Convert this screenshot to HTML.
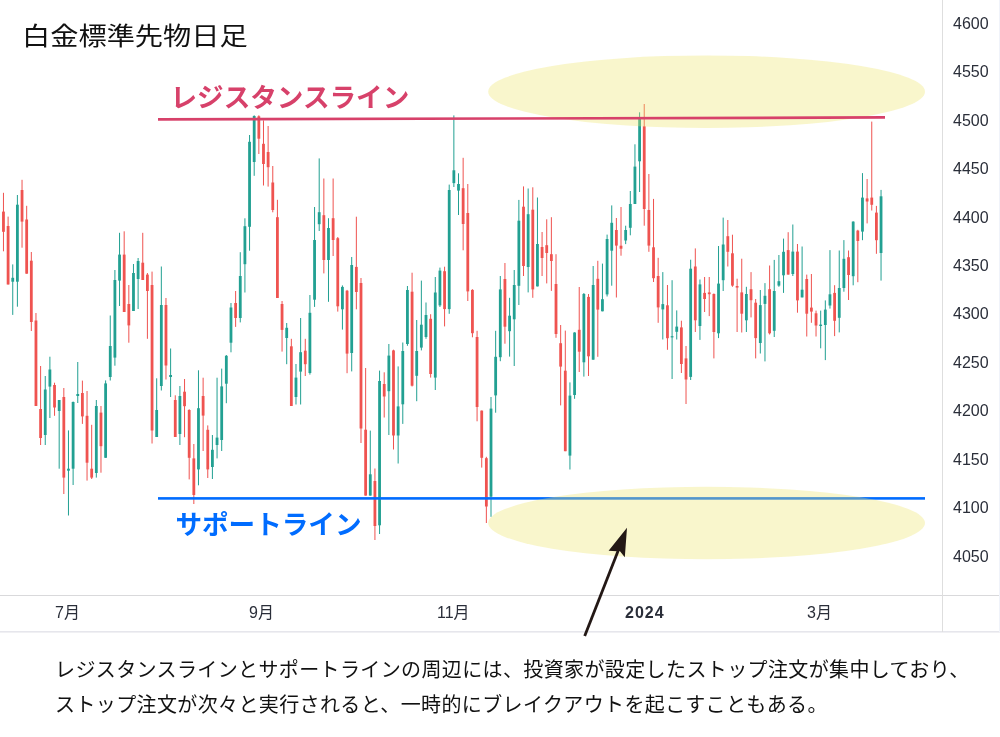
<!DOCTYPE html>
<html lang="ja"><head><meta charset="utf-8">
<style>
html,body{margin:0;padding:0;background:#fff;}
body{width:1000px;height:737px;position:relative;overflow:hidden;}
svg{position:absolute;left:0;top:0;}
.t{position:absolute;white-space:nowrap;font-family:"Liberation Sans","Noto Sans CJK JP",sans-serif;}
#title{left:21.5px;top:16.3px;font-size:27px;color:#111;transform:scale(1.045,0.93);transform-origin:0 0;}
#res{left:170.5px;top:76.2px;font-size:26.6px;font-weight:700;color:#d7416a;}
#sup{left:175.4px;top:502.9px;font-size:26.6px;font-weight:700;color:#006cff;}
#body{left:55px;top:653px;font-size:20px;letter-spacing:0.38px;line-height:35px;color:#111;}
.ax{font-family:"Liberation Sans","Noto Sans CJK JP",sans-serif;font-size:16px;fill:#2a2e39;}
</style></head><body>
<svg width="1000" height="737" viewBox="0 0 1000 737">
<g shape-rendering="auto">
<rect x="2.96" y="192.8" width="1.0" height="58.5" fill="#ef5350"/><rect x="2.06" y="211.6" width="2.8" height="20.2" fill="#ef5350"/>
<rect x="7.60" y="216.6" width="1.0" height="67.9" fill="#ef5350"/><rect x="6.70" y="226.0" width="2.8" height="58.5" fill="#ef5350"/>
<rect x="12.24" y="264.4" width="1.0" height="50.5" fill="#22a092"/><rect x="11.34" y="277.8" width="2.8" height="3.9" fill="#22a092"/>
<rect x="16.89" y="195.0" width="1.0" height="111.7" fill="#22a092"/><rect x="15.99" y="204.7" width="2.8" height="77.0" fill="#22a092"/>
<rect x="21.53" y="179.8" width="1.0" height="67.9" fill="#ef5350"/><rect x="20.63" y="190.0" width="2.8" height="31.6" fill="#ef5350"/>
<rect x="26.17" y="205.8" width="1.0" height="67.9" fill="#ef5350"/><rect x="25.27" y="219.5" width="2.8" height="54.2" fill="#ef5350"/>
<rect x="30.82" y="252.0" width="1.0" height="79.0" fill="#ef5350"/><rect x="29.92" y="260.7" width="2.8" height="61.3" fill="#ef5350"/>
<rect x="35.46" y="313.0" width="1.0" height="93.0" fill="#ef5350"/><rect x="34.56" y="320.5" width="2.8" height="85.5" fill="#ef5350"/>
<rect x="40.10" y="366.0" width="1.0" height="79.0" fill="#ef5350"/><rect x="39.20" y="409.0" width="2.8" height="29.0" fill="#ef5350"/>
<rect x="44.75" y="376.0" width="1.0" height="69.0" fill="#22a092"/><rect x="43.85" y="389.5" width="2.8" height="45.5" fill="#22a092"/>
<rect x="49.39" y="356.7" width="1.0" height="61.3" fill="#22a092"/><rect x="48.49" y="369.5" width="2.8" height="17.1" fill="#22a092"/>
<rect x="54.03" y="382.7" width="1.0" height="33.1" fill="#ef5350"/><rect x="53.13" y="385.0" width="2.8" height="22.5" fill="#ef5350"/>
<rect x="58.68" y="400.0" width="1.0" height="68.7" fill="#22a092"/><rect x="57.78" y="400.0" width="2.8" height="11.0" fill="#22a092"/>
<rect x="63.32" y="388.0" width="1.0" height="106.0" fill="#ef5350"/><rect x="62.42" y="397.0" width="2.8" height="80.6" fill="#ef5350"/>
<rect x="67.96" y="430.4" width="1.0" height="85.1" fill="#22a092"/><rect x="67.06" y="468.7" width="2.8" height="2.0" fill="#22a092"/>
<rect x="72.61" y="401.5" width="1.0" height="83.5" fill="#22a092"/><rect x="71.71" y="402.0" width="2.8" height="66.7" fill="#22a092"/>
<rect x="77.25" y="362.0" width="1.0" height="41.0" fill="#22a092"/><rect x="76.35" y="394.0" width="2.8" height="2.0" fill="#22a092"/>
<rect x="81.89" y="380.6" width="1.0" height="43.3" fill="#ef5350"/><rect x="80.99" y="393.0" width="2.8" height="23.4" fill="#ef5350"/>
<rect x="86.54" y="391.0" width="1.0" height="89.6" fill="#ef5350"/><rect x="85.64" y="415.8" width="2.8" height="46.9" fill="#ef5350"/>
<rect x="91.18" y="424.8" width="1.0" height="54.2" fill="#ef5350"/><rect x="90.28" y="468.7" width="2.8" height="8.9" fill="#ef5350"/>
<rect x="95.82" y="400.0" width="1.0" height="77.6" fill="#22a092"/><rect x="94.92" y="406.0" width="2.8" height="67.0" fill="#22a092"/>
<rect x="100.47" y="406.0" width="1.0" height="66.7" fill="#ef5350"/><rect x="99.57" y="412.6" width="2.8" height="33.6" fill="#ef5350"/>
<rect x="105.11" y="380.4" width="1.0" height="77.4" fill="#22a092"/><rect x="104.21" y="383.4" width="2.8" height="74.4" fill="#22a092"/>
<rect x="109.75" y="315.5" width="1.0" height="65.0" fill="#22a092"/><rect x="108.85" y="346.0" width="2.8" height="31.0" fill="#22a092"/>
<rect x="114.40" y="270.0" width="1.0" height="95.7" fill="#22a092"/><rect x="113.50" y="280.0" width="2.8" height="77.6" fill="#22a092"/>
<rect x="119.04" y="232.8" width="1.0" height="73.2" fill="#22a092"/><rect x="118.14" y="254.6" width="2.8" height="26.0" fill="#22a092"/>
<rect x="123.68" y="231.3" width="1.0" height="80.7" fill="#ef5350"/><rect x="122.78" y="254.6" width="2.8" height="57.4" fill="#ef5350"/>
<rect x="128.33" y="285.0" width="1.0" height="57.7" fill="#ef5350"/><rect x="127.43" y="304.0" width="2.8" height="21.4" fill="#ef5350"/>
<rect x="132.97" y="264.0" width="1.0" height="47.0" fill="#22a092"/><rect x="132.07" y="273.0" width="2.8" height="38.0" fill="#22a092"/>
<rect x="137.61" y="258.0" width="1.0" height="51.0" fill="#22a092"/><rect x="136.71" y="261.0" width="2.8" height="18.0" fill="#22a092"/>
<rect x="142.25" y="232.8" width="1.0" height="47.2" fill="#ef5350"/><rect x="141.35" y="262.7" width="2.8" height="17.3" fill="#ef5350"/>
<rect x="146.90" y="273.0" width="1.0" height="65.8" fill="#ef5350"/><rect x="146.00" y="274.6" width="2.8" height="16.4" fill="#ef5350"/>
<rect x="151.54" y="271.6" width="1.0" height="171.9" fill="#ef5350"/><rect x="150.64" y="285.0" width="2.8" height="145.5" fill="#ef5350"/>
<rect x="156.18" y="378.3" width="1.0" height="58.7" fill="#22a092"/><rect x="155.28" y="410.0" width="2.8" height="27.0" fill="#22a092"/>
<rect x="160.83" y="266.5" width="1.0" height="124.0" fill="#22a092"/><rect x="159.93" y="305.0" width="2.8" height="81.0" fill="#22a092"/>
<rect x="165.47" y="298.0" width="1.0" height="81.5" fill="#ef5350"/><rect x="164.57" y="305.0" width="2.8" height="60.5" fill="#ef5350"/>
<rect x="170.11" y="348.5" width="1.0" height="48.5" fill="#22a092"/><rect x="169.21" y="375.0" width="2.8" height="2.0" fill="#22a092"/>
<rect x="174.76" y="395.3" width="1.0" height="41.7" fill="#ef5350"/><rect x="173.86" y="400.0" width="2.8" height="37.0" fill="#ef5350"/>
<rect x="179.40" y="386.0" width="1.0" height="59.0" fill="#22a092"/><rect x="178.50" y="396.0" width="2.8" height="38.0" fill="#22a092"/>
<rect x="184.04" y="379.0" width="1.0" height="58.2" fill="#ef5350"/><rect x="183.14" y="391.7" width="2.8" height="14.5" fill="#ef5350"/>
<rect x="188.69" y="409.2" width="1.0" height="70.2" fill="#ef5350"/><rect x="187.79" y="410.0" width="2.8" height="47.8" fill="#ef5350"/>
<rect x="193.33" y="444.0" width="1.0" height="60.0" fill="#ef5350"/><rect x="192.43" y="458.4" width="2.8" height="36.6" fill="#ef5350"/>
<rect x="197.97" y="370.3" width="1.0" height="115.0" fill="#22a092"/><rect x="197.07" y="408.2" width="2.8" height="61.2" fill="#22a092"/>
<rect x="202.62" y="377.7" width="1.0" height="73.3" fill="#ef5350"/><rect x="201.72" y="396.0" width="2.8" height="19.6" fill="#ef5350"/>
<rect x="207.26" y="425.4" width="1.0" height="52.6" fill="#ef5350"/><rect x="206.36" y="429.8" width="2.8" height="39.6" fill="#ef5350"/>
<rect x="211.90" y="435.0" width="1.0" height="44.0" fill="#22a092"/><rect x="211.00" y="449.8" width="2.8" height="17.2" fill="#22a092"/>
<rect x="216.55" y="377.7" width="1.0" height="80.7" fill="#22a092"/><rect x="215.65" y="437.6" width="2.8" height="7.4" fill="#22a092"/>
<rect x="221.19" y="368.6" width="1.0" height="82.4" fill="#22a092"/><rect x="220.29" y="386.4" width="2.8" height="53.6" fill="#22a092"/>
<rect x="225.83" y="355.0" width="1.0" height="48.2" fill="#22a092"/><rect x="224.93" y="355.8" width="2.8" height="27.9" fill="#22a092"/>
<rect x="230.48" y="303.0" width="1.0" height="49.3" fill="#22a092"/><rect x="229.58" y="307.5" width="2.8" height="35.2" fill="#22a092"/>
<rect x="235.12" y="291.0" width="1.0" height="35.9" fill="#ef5350"/><rect x="234.22" y="303.0" width="2.8" height="15.0" fill="#ef5350"/>
<rect x="239.76" y="252.2" width="1.0" height="70.2" fill="#22a092"/><rect x="238.86" y="276.0" width="2.8" height="42.0" fill="#22a092"/>
<rect x="244.41" y="218.3" width="1.0" height="74.2" fill="#22a092"/><rect x="243.51" y="226.2" width="2.8" height="38.0" fill="#22a092"/>
<rect x="249.05" y="135.0" width="1.0" height="115.7" fill="#22a092"/><rect x="248.15" y="141.8" width="2.8" height="85.0" fill="#22a092"/>
<rect x="253.69" y="115.3" width="1.0" height="60.5" fill="#22a092"/><rect x="252.79" y="116.0" width="2.8" height="46.0" fill="#22a092"/>
<rect x="258.34" y="115.3" width="1.0" height="38.7" fill="#ef5350"/><rect x="257.44" y="116.3" width="2.8" height="22.4" fill="#ef5350"/>
<rect x="262.98" y="120.4" width="1.0" height="65.1" fill="#ef5350"/><rect x="262.08" y="143.8" width="2.8" height="20.2" fill="#ef5350"/>
<rect x="267.62" y="126.0" width="1.0" height="60.6" fill="#ef5350"/><rect x="266.72" y="152.0" width="2.8" height="15.2" fill="#ef5350"/>
<rect x="272.27" y="166.0" width="1.0" height="46.3" fill="#ef5350"/><rect x="271.37" y="182.5" width="2.8" height="27.5" fill="#ef5350"/>
<rect x="276.91" y="199.8" width="1.0" height="98.2" fill="#ef5350"/><rect x="276.01" y="217.2" width="2.8" height="80.8" fill="#ef5350"/>
<rect x="281.55" y="301.0" width="1.0" height="50.6" fill="#ef5350"/><rect x="280.65" y="304.0" width="2.8" height="25.9" fill="#ef5350"/>
<rect x="286.20" y="323.0" width="1.0" height="41.2" fill="#22a092"/><rect x="285.30" y="327.8" width="2.8" height="10.2" fill="#22a092"/>
<rect x="290.84" y="338.8" width="1.0" height="67.2" fill="#ef5350"/><rect x="289.94" y="346.3" width="2.8" height="59.7" fill="#ef5350"/>
<rect x="295.48" y="364.0" width="1.0" height="40.5" fill="#22a092"/><rect x="294.58" y="377.6" width="2.8" height="19.4" fill="#22a092"/>
<rect x="300.13" y="318.0" width="1.0" height="86.5" fill="#22a092"/><rect x="299.23" y="352.2" width="2.8" height="19.4" fill="#22a092"/>
<rect x="304.77" y="338.8" width="1.0" height="37.2" fill="#ef5350"/><rect x="303.87" y="350.7" width="2.8" height="13.5" fill="#ef5350"/>
<rect x="309.41" y="295.0" width="1.0" height="79.6" fill="#22a092"/><rect x="308.51" y="312.8" width="2.8" height="60.2" fill="#22a092"/>
<rect x="314.06" y="207.0" width="1.0" height="99.9" fill="#22a092"/><rect x="313.16" y="240.0" width="2.8" height="59.7" fill="#22a092"/>
<rect x="318.70" y="158.4" width="1.0" height="72.6" fill="#22a092"/><rect x="317.80" y="212.2" width="2.8" height="12.0" fill="#22a092"/>
<rect x="323.34" y="178.5" width="1.0" height="94.9" fill="#ef5350"/><rect x="322.44" y="215.2" width="2.8" height="44.8" fill="#ef5350"/>
<rect x="327.99" y="218.2" width="1.0" height="83.6" fill="#22a092"/><rect x="327.09" y="228.0" width="2.8" height="32.0" fill="#22a092"/>
<rect x="332.63" y="178.5" width="1.0" height="77.5" fill="#ef5350"/><rect x="331.73" y="218.2" width="2.8" height="21.8" fill="#ef5350"/>
<rect x="337.27" y="237.0" width="1.0" height="74.6" fill="#ef5350"/><rect x="336.37" y="238.2" width="2.8" height="68.1" fill="#ef5350"/>
<rect x="341.92" y="285.4" width="1.0" height="44.2" fill="#22a092"/><rect x="341.02" y="286.9" width="2.8" height="22.4" fill="#22a092"/>
<rect x="346.56" y="289.9" width="1.0" height="83.3" fill="#ef5350"/><rect x="345.66" y="290.7" width="2.8" height="62.9" fill="#ef5350"/>
<rect x="351.20" y="257.0" width="1.0" height="114.4" fill="#22a092"/><rect x="350.30" y="265.0" width="2.8" height="88.0" fill="#22a092"/>
<rect x="355.85" y="216.7" width="1.0" height="92.6" fill="#ef5350"/><rect x="354.95" y="266.9" width="2.8" height="25.1" fill="#ef5350"/>
<rect x="360.49" y="278.0" width="1.0" height="165.0" fill="#ef5350"/><rect x="359.59" y="283.0" width="2.8" height="145.5" fill="#ef5350"/>
<rect x="365.13" y="368.0" width="1.0" height="127.6" fill="#ef5350"/><rect x="364.23" y="429.7" width="2.8" height="65.9" fill="#ef5350"/>
<rect x="369.78" y="430.6" width="1.0" height="65.0" fill="#22a092"/><rect x="368.88" y="474.3" width="2.8" height="21.3" fill="#22a092"/>
<rect x="374.42" y="468.5" width="1.0" height="71.5" fill="#ef5350"/><rect x="373.52" y="481.0" width="2.8" height="45.0" fill="#ef5350"/>
<rect x="379.06" y="370.6" width="1.0" height="163.4" fill="#22a092"/><rect x="378.16" y="381.0" width="2.8" height="144.3" fill="#22a092"/>
<rect x="383.71" y="372.3" width="1.0" height="45.2" fill="#ef5350"/><rect x="382.81" y="384.0" width="2.8" height="12.5" fill="#ef5350"/>
<rect x="388.35" y="344.0" width="1.0" height="91.0" fill="#22a092"/><rect x="387.45" y="355.6" width="2.8" height="35.6" fill="#22a092"/>
<rect x="392.99" y="349.7" width="1.0" height="99.8" fill="#ef5350"/><rect x="392.09" y="350.4" width="2.8" height="85.1" fill="#ef5350"/>
<rect x="397.64" y="366.4" width="1.0" height="97.1" fill="#22a092"/><rect x="396.74" y="406.4" width="2.8" height="29.1" fill="#22a092"/>
<rect x="402.28" y="342.5" width="1.0" height="81.4" fill="#22a092"/><rect x="401.38" y="351.0" width="2.8" height="53.3" fill="#22a092"/>
<rect x="406.92" y="286.0" width="1.0" height="59.8" fill="#22a092"/><rect x="406.02" y="290.0" width="2.8" height="54.0" fill="#22a092"/>
<rect x="411.57" y="272.7" width="1.0" height="113.8" fill="#ef5350"/><rect x="410.67" y="291.7" width="2.8" height="94.0" fill="#ef5350"/>
<rect x="416.21" y="320.0" width="1.0" height="81.2" fill="#22a092"/><rect x="415.31" y="351.0" width="2.8" height="24.8" fill="#22a092"/>
<rect x="420.85" y="280.6" width="1.0" height="69.8" fill="#22a092"/><rect x="419.95" y="324.7" width="2.8" height="22.9" fill="#22a092"/>
<rect x="425.50" y="302.5" width="1.0" height="36.3" fill="#22a092"/><rect x="424.60" y="315.0" width="2.8" height="22.0" fill="#22a092"/>
<rect x="430.14" y="314.2" width="1.0" height="63.4" fill="#ef5350"/><rect x="429.24" y="318.8" width="2.8" height="55.2" fill="#ef5350"/>
<rect x="434.78" y="277.0" width="1.0" height="113.0" fill="#22a092"/><rect x="433.88" y="292.5" width="2.8" height="85.1" fill="#22a092"/>
<rect x="439.43" y="267.6" width="1.0" height="39.4" fill="#22a092"/><rect x="438.53" y="270.6" width="2.8" height="34.8" fill="#22a092"/>
<rect x="444.07" y="266.7" width="1.0" height="59.7" fill="#ef5350"/><rect x="443.17" y="271.2" width="2.8" height="37.9" fill="#ef5350"/>
<rect x="448.71" y="184.6" width="1.0" height="129.2" fill="#22a092"/><rect x="447.81" y="190.0" width="2.8" height="119.1" fill="#22a092"/>
<rect x="453.36" y="115.4" width="1.0" height="71.6" fill="#22a092"/><rect x="452.46" y="170.3" width="2.8" height="12.8" fill="#22a092"/>
<rect x="458.00" y="173.3" width="1.0" height="41.7" fill="#22a092"/><rect x="457.10" y="184.0" width="2.8" height="6.6" fill="#22a092"/>
<rect x="462.64" y="157.8" width="1.0" height="92.5" fill="#ef5350"/><rect x="461.74" y="188.2" width="2.8" height="35.8" fill="#ef5350"/>
<rect x="467.29" y="184.0" width="1.0" height="117.0" fill="#ef5350"/><rect x="466.39" y="213.0" width="2.8" height="78.4" fill="#ef5350"/>
<rect x="471.93" y="289.2" width="1.0" height="48.1" fill="#ef5350"/><rect x="471.03" y="289.9" width="2.8" height="43.3" fill="#ef5350"/>
<rect x="476.57" y="330.8" width="1.0" height="90.5" fill="#ef5350"/><rect x="475.67" y="337.0" width="2.8" height="70.0" fill="#ef5350"/>
<rect x="481.22" y="410.5" width="1.0" height="57.1" fill="#ef5350"/><rect x="480.32" y="410.6" width="2.8" height="47.2" fill="#ef5350"/>
<rect x="485.86" y="456.8" width="1.0" height="66.2" fill="#ef5350"/><rect x="484.96" y="458.2" width="2.8" height="48.3" fill="#ef5350"/>
<rect x="490.50" y="397.0" width="1.0" height="119.8" fill="#22a092"/><rect x="489.60" y="408.6" width="2.8" height="88.1" fill="#22a092"/>
<rect x="495.15" y="330.8" width="1.0" height="81.9" fill="#22a092"/><rect x="494.25" y="356.8" width="2.8" height="38.6" fill="#22a092"/>
<rect x="499.79" y="276.0" width="1.0" height="85.2" fill="#22a092"/><rect x="498.89" y="289.4" width="2.8" height="67.8" fill="#22a092"/>
<rect x="504.43" y="263.0" width="1.0" height="80.7" fill="#ef5350"/><rect x="503.53" y="279.0" width="2.8" height="47.7" fill="#ef5350"/>
<rect x="509.08" y="297.8" width="1.0" height="58.8" fill="#22a092"/><rect x="508.18" y="315.7" width="2.8" height="15.5" fill="#22a092"/>
<rect x="513.72" y="270.0" width="1.0" height="96.0" fill="#22a092"/><rect x="512.82" y="285.0" width="2.8" height="34.3" fill="#22a092"/>
<rect x="518.36" y="199.9" width="1.0" height="105.1" fill="#22a092"/><rect x="517.46" y="220.7" width="2.8" height="65.1" fill="#22a092"/>
<rect x="523.01" y="186.4" width="1.0" height="89.6" fill="#ef5350"/><rect x="522.11" y="206.7" width="2.8" height="59.3" fill="#ef5350"/>
<rect x="527.65" y="188.5" width="1.0" height="103.9" fill="#22a092"/><rect x="526.75" y="214.2" width="2.8" height="52.8" fill="#22a092"/>
<rect x="532.29" y="187.3" width="1.0" height="110.5" fill="#ef5350"/><rect x="531.39" y="209.7" width="2.8" height="79.7" fill="#ef5350"/>
<rect x="536.94" y="197.5" width="1.0" height="88.9" fill="#22a092"/><rect x="536.04" y="244.0" width="2.8" height="42.4" fill="#22a092"/>
<rect x="541.58" y="232.0" width="1.0" height="44.0" fill="#ef5350"/><rect x="540.68" y="247.0" width="2.8" height="11.0" fill="#ef5350"/>
<rect x="546.22" y="219.3" width="1.0" height="64.1" fill="#ef5350"/><rect x="545.32" y="245.2" width="2.8" height="7.8" fill="#ef5350"/>
<rect x="550.87" y="217.2" width="1.0" height="73.7" fill="#ef5350"/><rect x="549.97" y="254.2" width="2.8" height="6.8" fill="#ef5350"/>
<rect x="555.51" y="254.2" width="1.0" height="83.6" fill="#ef5350"/><rect x="554.61" y="284.0" width="2.8" height="50.0" fill="#ef5350"/>
<rect x="560.15" y="325.0" width="1.0" height="80.4" fill="#ef5350"/><rect x="559.25" y="343.2" width="2.8" height="23.4" fill="#ef5350"/>
<rect x="564.80" y="330.6" width="1.0" height="120.6" fill="#ef5350"/><rect x="563.90" y="370.7" width="2.8" height="80.5" fill="#ef5350"/>
<rect x="569.44" y="382.4" width="1.0" height="87.1" fill="#22a092"/><rect x="568.54" y="395.6" width="2.8" height="60.0" fill="#22a092"/>
<rect x="574.08" y="332.2" width="1.0" height="66.6" fill="#22a092"/><rect x="573.18" y="332.5" width="2.8" height="62.5" fill="#22a092"/>
<rect x="578.73" y="287.0" width="1.0" height="85.0" fill="#ef5350"/><rect x="577.83" y="329.8" width="2.8" height="21.9" fill="#ef5350"/>
<rect x="583.37" y="293.0" width="1.0" height="83.6" fill="#22a092"/><rect x="582.47" y="294.0" width="2.8" height="68.3" fill="#22a092"/>
<rect x="588.01" y="294.0" width="1.0" height="82.0" fill="#ef5350"/><rect x="587.11" y="296.9" width="2.8" height="59.4" fill="#ef5350"/>
<rect x="592.66" y="266.0" width="1.0" height="93.7" fill="#22a092"/><rect x="591.76" y="285.0" width="2.8" height="74.7" fill="#22a092"/>
<rect x="597.30" y="260.8" width="1.0" height="96.0" fill="#ef5350"/><rect x="596.40" y="278.8" width="2.8" height="30.8" fill="#ef5350"/>
<rect x="601.94" y="263.6" width="1.0" height="47.7" fill="#22a092"/><rect x="601.04" y="299.2" width="2.8" height="12.1" fill="#22a092"/>
<rect x="606.59" y="234.6" width="1.0" height="61.9" fill="#22a092"/><rect x="605.69" y="239.0" width="2.8" height="55.4" fill="#22a092"/>
<rect x="611.23" y="205.4" width="1.0" height="80.3" fill="#22a092"/><rect x="610.33" y="222.8" width="2.8" height="27.9" fill="#22a092"/>
<rect x="615.87" y="218.0" width="1.0" height="79.5" fill="#ef5350"/><rect x="614.97" y="230.0" width="2.8" height="15.6" fill="#ef5350"/>
<rect x="620.51" y="207.0" width="1.0" height="48.7" fill="#ef5350"/><rect x="619.61" y="245.7" width="2.8" height="3.0" fill="#ef5350"/>
<rect x="625.16" y="225.7" width="1.0" height="18.4" fill="#22a092"/><rect x="624.26" y="230.0" width="2.8" height="10.5" fill="#22a092"/>
<rect x="629.80" y="191.0" width="1.0" height="44.3" fill="#22a092"/><rect x="628.90" y="204.0" width="2.8" height="23.8" fill="#22a092"/>
<rect x="634.44" y="144.3" width="1.0" height="59.7" fill="#22a092"/><rect x="633.54" y="166.6" width="2.8" height="37.4" fill="#22a092"/>
<rect x="639.09" y="112.3" width="1.0" height="79.7" fill="#22a092"/><rect x="638.19" y="118.9" width="2.8" height="42.4" fill="#22a092"/>
<rect x="643.73" y="104.0" width="1.0" height="121.7" fill="#ef5350"/><rect x="642.83" y="126.3" width="2.8" height="82.7" fill="#ef5350"/>
<rect x="648.37" y="174.0" width="1.0" height="77.8" fill="#ef5350"/><rect x="647.47" y="210.0" width="2.8" height="35.6" fill="#ef5350"/>
<rect x="653.02" y="198.9" width="1.0" height="83.1" fill="#ef5350"/><rect x="652.12" y="247.3" width="2.8" height="30.9" fill="#ef5350"/>
<rect x="657.66" y="257.8" width="1.0" height="65.0" fill="#ef5350"/><rect x="656.76" y="276.0" width="2.8" height="31.4" fill="#ef5350"/>
<rect x="662.30" y="272.1" width="1.0" height="67.4" fill="#22a092"/><rect x="661.40" y="304.1" width="2.8" height="5.3" fill="#22a092"/>
<rect x="666.95" y="285.0" width="1.0" height="64.8" fill="#ef5350"/><rect x="666.05" y="305.3" width="2.8" height="32.9" fill="#ef5350"/>
<rect x="671.59" y="280.2" width="1.0" height="98.8" fill="#22a092"/><rect x="670.69" y="336.2" width="2.8" height="1.2" fill="#22a092"/>
<rect x="676.23" y="310.4" width="1.0" height="29.1" fill="#22a092"/><rect x="675.33" y="326.6" width="2.8" height="5.2" fill="#22a092"/>
<rect x="680.88" y="320.7" width="1.0" height="52.3" fill="#ef5350"/><rect x="679.98" y="327.4" width="2.8" height="36.6" fill="#ef5350"/>
<rect x="685.52" y="346.0" width="1.0" height="58.0" fill="#ef5350"/><rect x="684.62" y="358.4" width="2.8" height="21.1" fill="#ef5350"/>
<rect x="690.16" y="259.7" width="1.0" height="120.3" fill="#22a092"/><rect x="689.26" y="268.7" width="2.8" height="108.2" fill="#22a092"/>
<rect x="694.81" y="248.4" width="1.0" height="83.6" fill="#ef5350"/><rect x="693.91" y="266.5" width="2.8" height="53.8" fill="#ef5350"/>
<rect x="699.45" y="279.5" width="1.0" height="60.4" fill="#22a092"/><rect x="698.55" y="284.4" width="2.8" height="41.6" fill="#22a092"/>
<rect x="704.09" y="277.0" width="1.0" height="35.0" fill="#ef5350"/><rect x="703.19" y="292.9" width="2.8" height="6.1" fill="#ef5350"/>
<rect x="708.74" y="277.0" width="1.0" height="39.1" fill="#ef5350"/><rect x="707.84" y="292.4" width="2.8" height="1.8" fill="#ef5350"/>
<rect x="713.38" y="293.4" width="1.0" height="65.0" fill="#ef5350"/><rect x="712.48" y="294.0" width="2.8" height="38.0" fill="#ef5350"/>
<rect x="718.02" y="246.0" width="1.0" height="92.1" fill="#22a092"/><rect x="717.12" y="283.6" width="2.8" height="49.7" fill="#22a092"/>
<rect x="722.67" y="217.6" width="1.0" height="73.4" fill="#22a092"/><rect x="721.77" y="244.5" width="2.8" height="35.7" fill="#22a092"/>
<rect x="727.31" y="220.0" width="1.0" height="46.5" fill="#ef5350"/><rect x="726.41" y="236.2" width="2.8" height="15.6" fill="#ef5350"/>
<rect x="731.95" y="234.7" width="1.0" height="52.1" fill="#ef5350"/><rect x="731.05" y="253.3" width="2.8" height="32.3" fill="#ef5350"/>
<rect x="736.60" y="278.7" width="1.0" height="53.3" fill="#ef5350"/><rect x="735.70" y="286.0" width="2.8" height="1.6" fill="#ef5350"/>
<rect x="741.24" y="258.7" width="1.0" height="73.8" fill="#ef5350"/><rect x="740.34" y="292.4" width="2.8" height="21.3" fill="#ef5350"/>
<rect x="745.88" y="286.8" width="1.0" height="45.2" fill="#22a092"/><rect x="744.98" y="294.0" width="2.8" height="26.3" fill="#22a092"/>
<rect x="750.53" y="272.1" width="1.0" height="45.3" fill="#ef5350"/><rect x="749.63" y="289.2" width="2.8" height="11.0" fill="#ef5350"/>
<rect x="755.17" y="299.0" width="1.0" height="59.4" fill="#ef5350"/><rect x="754.27" y="302.7" width="2.8" height="35.4" fill="#ef5350"/>
<rect x="759.81" y="290.0" width="1.0" height="63.5" fill="#22a092"/><rect x="758.91" y="305.1" width="2.8" height="37.9" fill="#22a092"/>
<rect x="764.46" y="283.1" width="1.0" height="78.3" fill="#22a092"/><rect x="763.56" y="295.8" width="2.8" height="8.1" fill="#22a092"/>
<rect x="769.10" y="265.5" width="1.0" height="69.0" fill="#ef5350"/><rect x="768.20" y="289.2" width="2.8" height="44.1" fill="#ef5350"/>
<rect x="773.74" y="259.9" width="1.0" height="77.1" fill="#22a092"/><rect x="772.84" y="291.0" width="2.8" height="39.8" fill="#22a092"/>
<rect x="778.39" y="255.0" width="1.0" height="31.8" fill="#22a092"/><rect x="777.49" y="281.2" width="2.8" height="4.4" fill="#22a092"/>
<rect x="783.03" y="238.6" width="1.0" height="54.3" fill="#22a092"/><rect x="782.13" y="251.8" width="2.8" height="23.5" fill="#22a092"/>
<rect x="787.67" y="232.2" width="1.0" height="42.4" fill="#ef5350"/><rect x="786.77" y="250.1" width="2.8" height="24.5" fill="#ef5350"/>
<rect x="792.32" y="224.5" width="1.0" height="51.5" fill="#22a092"/><rect x="791.42" y="251.6" width="2.8" height="22.4" fill="#22a092"/>
<rect x="796.96" y="244.0" width="1.0" height="68.7" fill="#ef5350"/><rect x="796.06" y="251.6" width="2.8" height="48.8" fill="#ef5350"/>
<rect x="801.60" y="246.5" width="1.0" height="50.9" fill="#22a092"/><rect x="800.70" y="289.7" width="2.8" height="7.7" fill="#22a092"/>
<rect x="806.25" y="274.6" width="1.0" height="61.9" fill="#ef5350"/><rect x="805.35" y="279.0" width="2.8" height="34.7" fill="#ef5350"/>
<rect x="810.89" y="274.0" width="1.0" height="48.8" fill="#ef5350"/><rect x="809.99" y="307.6" width="2.8" height="4.0" fill="#ef5350"/>
<rect x="815.53" y="310.6" width="1.0" height="25.9" fill="#ef5350"/><rect x="814.63" y="313.3" width="2.8" height="12.2" fill="#ef5350"/>
<rect x="820.18" y="310.6" width="1.0" height="37.7" fill="#22a092"/><rect x="819.28" y="324.6" width="2.8" height="1.4" fill="#22a092"/>
<rect x="824.82" y="300.4" width="1.0" height="59.7" fill="#22a092"/><rect x="823.92" y="309.6" width="2.8" height="15.4" fill="#22a092"/>
<rect x="829.46" y="250.1" width="1.0" height="58.5" fill="#22a092"/><rect x="828.56" y="294.3" width="2.8" height="11.2" fill="#22a092"/>
<rect x="834.11" y="285.2" width="1.0" height="50.9" fill="#ef5350"/><rect x="833.21" y="292.9" width="2.8" height="27.9" fill="#ef5350"/>
<rect x="838.75" y="250.5" width="1.0" height="81.9" fill="#22a092"/><rect x="837.85" y="288.0" width="2.8" height="29.8" fill="#22a092"/>
<rect x="843.39" y="240.1" width="1.0" height="51.6" fill="#22a092"/><rect x="842.49" y="258.8" width="2.8" height="29.2" fill="#22a092"/>
<rect x="848.04" y="250.5" width="1.0" height="49.5" fill="#ef5350"/><rect x="847.14" y="257.2" width="2.8" height="17.8" fill="#ef5350"/>
<rect x="852.68" y="221.3" width="1.0" height="64.0" fill="#22a092"/><rect x="851.78" y="221.6" width="2.8" height="54.6" fill="#22a092"/>
<rect x="857.32" y="229.8" width="1.0" height="52.4" fill="#ef5350"/><rect x="856.42" y="230.6" width="2.8" height="10.4" fill="#ef5350"/>
<rect x="861.97" y="173.1" width="1.0" height="67.1" fill="#22a092"/><rect x="861.07" y="197.6" width="2.8" height="34.0" fill="#22a092"/>
<rect x="866.61" y="179.0" width="1.0" height="44.4" fill="#ef5350"/><rect x="865.71" y="198.4" width="2.8" height="3.1" fill="#ef5350"/>
<rect x="871.25" y="121.6" width="1.0" height="88.9" fill="#ef5350"/><rect x="870.35" y="197.6" width="2.8" height="7.2" fill="#ef5350"/>
<rect x="875.90" y="205.9" width="1.0" height="47.9" fill="#ef5350"/><rect x="875.00" y="212.6" width="2.8" height="27.6" fill="#ef5350"/>
<rect x="880.54" y="189.9" width="1.0" height="90.7" fill="#22a092"/><rect x="879.64" y="196.3" width="2.8" height="56.7" fill="#22a092"/>
</g>
<rect x="158" y="497.1" width="767" height="2.6" fill="#006cff"/>
<ellipse cx="706.6" cy="91.7" rx="218.4" ry="36.3" fill="#eee56d" fill-opacity="0.35"/>
<ellipse cx="706.6" cy="523" rx="218.4" ry="36.3" fill="#eee56d" fill-opacity="0.35"/>
<path d="M158 118.1 L885 116.1 L885 118.8 L158 120.8 Z" fill="#d7416a"/>
<rect x="0" y="595" width="1000" height="1" fill="#d9d9db"/>
<rect x="0" y="631" width="1000" height="1.6" fill="#e6e6ec"/>
<rect x="942" y="0" width="1" height="632" fill="#dedede"/>
<rect x="999" y="0" width="1" height="632" fill="#f0f3fa"/>
<g class="ax"><text x="953" y="561.5">4050</text><text x="953" y="513.1">4100</text><text x="953" y="464.6">4150</text><text x="953" y="416.2">4200</text><text x="953" y="367.8">4250</text><text x="953" y="319.4">4300</text><text x="953" y="270.9">4350</text><text x="953" y="222.5">4400</text><text x="953" y="174.1">4450</text><text x="953" y="125.7">4500</text><text x="953" y="77.2">4550</text><text x="953" y="28.8">4600</text></g>
<g class="ax">
<text x="55" y="618">7月</text>
<text x="249" y="618">9月</text>
<text x="437" y="618">11月</text>
<text x="625" y="618" font-weight="700" letter-spacing="1">2024</text>
<text x="807" y="618">3月</text>
</g>
<g stroke="#231815" fill="#231815">
<line x1="584.7" y1="636" x2="620.6" y2="544.5" stroke-width="2.8"/>
<path d="M627 527.8 L608.6 550.7 L617 551.3 L619.8 551 L624.8 557.2 Z" stroke="none"/>
</g>
</svg>
<div class="t" id="title">白金標準先物日足</div>
<div class="t" id="res">レジスタンスライン</div>
<div class="t" id="sup">サポートライン</div>
<div class="t" id="body">レジスタンスラインとサポートラインの周辺には、投資家が設定したストップ注文が集中しており、<br>ストップ注文が次々と実行されると、一時的にブレイクアウトを起こすこともある。</div>
</body></html>
